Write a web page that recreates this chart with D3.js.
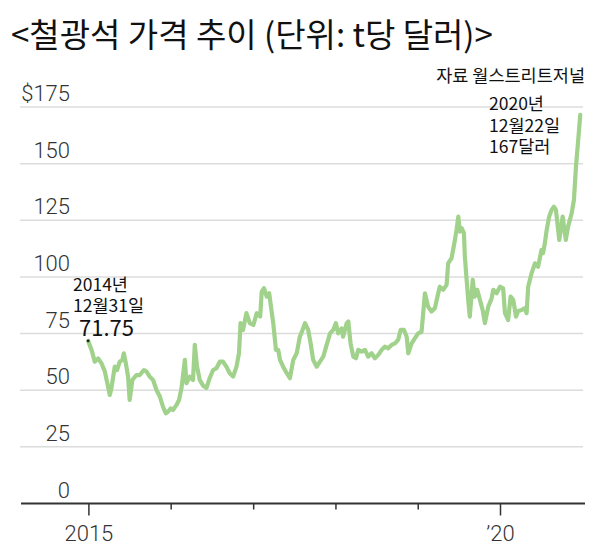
<!DOCTYPE html>
<html><head><meta charset="utf-8">
<script src="https://cdn.jsdelivr.net/npm/d3@7"></script>
<style>
html,body{margin:0;padding:0;background:#fff;}
svg{display:block;}
</style></head>
<body>
<svg id="chart" width="606" height="552"></svg>
<script>
// ---- data ----
const dates = ["2014-12-31","2015-01-15","2015-01-29","2015-02-13","2015-02-28","2015-03-15","2015-03-29","2015-04-06","2015-04-13","2015-04-28",
"2015-05-08","2015-05-20","2015-06-01","2015-06-07","2015-06-16","2015-06-26","2015-07-03","2015-07-15","2015-08-02","2015-08-17",
"2015-09-04","2015-09-16","2015-09-30","2015-10-15","2015-10-30","2015-11-14","2015-11-28","2015-12-10","2015-12-20","2016-01-01",
"2016-01-12","2016-01-27","2016-02-07","2016-02-18","2016-03-04","2016-03-11","2016-03-26","2016-04-09","2016-04-17","2016-04-27",
"2016-05-09","2016-05-24","2016-06-08","2016-06-22","2016-07-07","2016-07-22","2016-08-06","2016-08-20","2016-09-04","2016-09-19",
"2016-10-04","2016-10-19","2016-10-30","2016-11-06","2016-11-17","2016-12-02","2016-12-17","2017-01-02","2017-01-17","2017-02-01",
"2017-02-08","2017-02-18","2017-03-02","2017-03-13","2017-03-21","2017-03-31","2017-04-12","2017-04-22","2017-04-30","2017-05-14",
"2017-05-30","2017-06-13","2017-06-28","2017-07-13","2017-07-27","2017-08-08","2017-08-19","2017-09-02","2017-09-13","2017-09-24",
"2017-10-10","2017-10-24","2017-11-08","2017-11-23","2017-12-08","2017-12-22","2018-01-03","2018-01-13","2018-01-28","2018-02-04",
"2018-02-20","2018-02-27","2018-03-09","2018-03-21","2018-04-02","2018-04-12","2018-04-27","2018-05-12","2018-05-26","2018-06-10",
"2018-06-25","2018-07-10","2018-07-25","2018-08-08","2018-08-23","2018-09-07","2018-09-22","2018-10-06","2018-10-17","2018-11-01",
"2018-11-13","2018-11-20","2018-12-05","2018-12-19","2019-01-03","2019-01-18","2019-02-02","2019-02-16","2019-03-03","2019-03-18",
"2019-04-02","2019-04-09","2019-04-24","2019-05-09","2019-05-16","2019-05-31","2019-06-07","2019-06-15","2019-06-22","2019-06-30",
"2019-07-07","2019-07-15","2019-07-25","2019-07-29","2019-08-06","2019-08-13","2019-08-20","2019-09-02","2019-09-11","2019-09-22",
"2019-10-04","2019-10-16","2019-10-26","2019-11-10","2019-11-25","2019-12-02","2019-12-17","2020-01-01","2020-01-15","2020-01-23",
"2020-02-06","2020-02-17","2020-02-29","2020-03-12","2020-03-22","2020-04-06","2020-04-20","2020-04-28","2020-05-05","2020-05-20",
"2020-06-04","2020-06-18","2020-07-03","2020-07-10","2020-07-18","2020-07-26","2020-08-06","2020-08-17","2020-08-27","2020-09-05",
"2020-09-20","2020-10-05","2020-10-19","2020-10-29","2020-11-14","2020-11-24","2020-12-03","2020-12-13","2020-12-22"];
const prices = [71.75,67.8,62.6,64.0,61.9,58.2,51.6,47.9,50.9,60.4,
58.9,62.6,63.4,66.3,61.9,56.0,45.7,54.5,56.7,56.7,
58.9,58.2,56.0,54.5,50.1,47.2,42.7,39.8,40.5,42.0,
41.3,43.5,45.7,50.9,63.4,53.1,56.0,54.5,70.0,60.4,
54.5,52.0,51.0,55.3,58.9,59.7,62.6,62.6,60.4,57.5,
56.0,60.4,66.3,79.6,76.6,84.0,79.6,78.8,84.0,82.5,
93.5,95.0,91.3,92.8,86.9,79.6,67.8,67.8,63.4,60.4,
57.5,55.3,63.4,66.3,73.6,76.6,79.6,76.6,70.7,63.4,
60.4,62.6,64.8,70.0,75.1,76.6,79.6,75.1,77.3,73.6,
79.6,80.3,70.7,64.8,64.1,67.8,67.0,67.8,64.8,66.3,
64.1,65.6,67.8,69.2,68.5,70.0,70.7,72.2,76.6,76.6,
73.6,66.3,70.7,72.9,75.1,75.8,92.8,86.9,84.7,86.2,
92.8,95.7,94.3,96.5,106.0,108.3,111.9,116.3,120.7,126.6,
120.0,121.5,119.3,109.0,98.7,89.8,82.5,98.7,91.3,94.3,
89.8,85.4,79.6,86.9,90.6,94.3,92.8,95.7,95.0,84.0,
81.0,91.3,89.8,82.5,85.0,85.4,86.2,84.0,95.7,101.6,
106.0,104.5,111.9,110.5,114.9,120.7,126.6,129.6,131.0,129.6,
116.3,126.6,116.3,122.2,128.1,134.0,148.7,160.5,171.5];
const yTicks = [0,25,50,75,100,125,150,175];
const yTickLabels = ["0","25","50","75","100","125","150","$175"];
const xTicks = ["2015-01-01","2016-01-01","2017-01-01","2018-01-01","2019-01-01","2020-01-01"];
const xTickLabels = ["2015","","","","","\u201920"];
const titleText = "<철광석 가격 추이 (단위: t당 달러)>";
const sourceText = "자료 월스트리트저널";
const startNote = ["2014년","12월31일","71.75"];
const endNote = ["2020년","12월22일","167달러"];

// ---- chart ----
const parse = d3.timeParse("%Y-%m-%d");
const data = dates.map((d,i)=>({date:parse(d), value:prices[i]}));
const svg = d3.select("#chart");
const kr = "'Noto Sans CJK KR','Noto Sans',sans-serif";
const num = "Roboto,'Noto Sans',sans-serif";

const x = d3.scaleTime().domain([parse("2015-01-01"), parse("2020-01-01")]).range([88.4, 500]);
const y = d3.scaleLinear().domain([0,175]).range([503.5, 107]);
const gridX0 = 20, gridX1 = 583;

svg.append("text").attr("x",11).attr("y",47).attr("font-family",kr).attr("font-size",33)
  .attr("fill","#111").text(titleText);

// gridlines
svg.append("g").selectAll("line").data(yTicks.filter(d=>d>0)).join("line")
  .attr("x1",gridX0).attr("x2",gridX1).attr("y1",d=>y(d)).attr("y2",d=>y(d))
  .attr("stroke","#dcdcdc").attr("stroke-width",1.5);

// y labels
svg.append("g").selectAll("text").data(yTicks).join("text")
  .attr("x",70).attr("y",d=>y(d)-6).attr("text-anchor","end")
  .attr("font-family",num).attr("font-weight",300).attr("font-size",22).attr("fill","#333")
  .text((d,i)=>yTickLabels[i]);

// x axis
const xAxis = d3.axisBottom(x).tickValues(xTicks.map(parse))
  .tickSize(0).tickFormat("");
const gx = svg.append("g").attr("transform",`translate(0,${y(0)})`).call(xAxis);
gx.select(".domain").remove();
gx.selectAll(".tick line").attr("y2",(d,i)=> xTickLabels[i] ? 12 : 6).attr("stroke","#333").attr("stroke-width",1.5);
gx.selectAll(".tick text").remove();
gx.selectAll(".tick").append("text").attr("y",37).attr("text-anchor","middle")
  .attr("font-family",num).attr("font-weight",300).attr("font-size",22).attr("fill","#333")
  .text((d,i)=>xTickLabels[i]);
svg.append("line").attr("x1",21).attr("x2",585).attr("y1",y(0)).attr("y2",y(0))
  .attr("stroke","#333").attr("stroke-width",2);

// line
const line = d3.line().x(d=>x(d.date)).y(d=>y(d.value)).curve(d3.curveLinear);
svg.append("path").datum(data).attr("d",line).attr("fill","none")
  .attr("stroke","#a0d28b").attr("stroke-width",4.2).attr("stroke-linejoin","round").attr("stroke-linecap","round");
svg.append("circle").attr("cx",x(data[0].date)).attr("cy",y(data[0].value)).attr("r",1.4).attr("fill","#222");

// annotations
svg.append("text").attr("x",585).attr("y",82).attr("text-anchor","end").attr("font-family",kr)
  .attr("font-size",17.5).attr("fill","#111").text(sourceText);
const sn = svg.append("text").attr("font-family",kr).attr("fill","#111").attr("y",291);
sn.append("tspan").attr("x",73).attr("font-size",17.5).text(startNote[0]);
sn.append("tspan").attr("x",73).attr("dy",21).attr("font-size",17.5).text(startNote[1]);
sn.append("tspan").attr("x",79).attr("dy",24).attr("font-size",22).text(startNote[2]);
const en = svg.append("text").attr("font-family",kr).attr("fill","#111").attr("font-size",17.5).attr("y",110);
en.selectAll("tspan").data(endNote).join("tspan").attr("x",489).attr("dy",(d,i)=>i?21.5:0).text(d=>d);
</script>
</body></html>
